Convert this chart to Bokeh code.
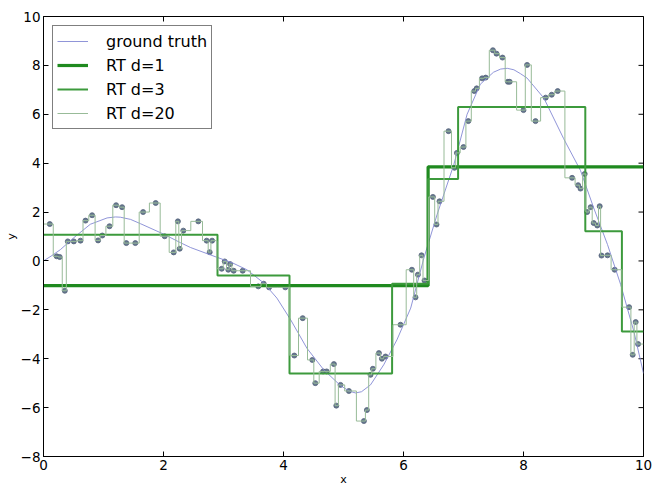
from bokeh.plotting import figure
from bokeh.models import Range1d, FixedTicker, Legend, LegendItem
from bokeh.embed import file_html
from bokeh.resources import INLINE

# ---- data ----
sample_x = [0.105, 0.22, 0.27, 0.355, 0.405, 0.505, 0.617, 0.70, 0.81, 0.91,
            0.98, 1.10, 1.21, 1.31, 1.38, 1.53, 1.66, 1.87, 2.02, 2.17,
            2.24, 2.27, 2.33, 2.58, 2.72, 2.77, 2.81, 2.97, 3.02, 3.08,
            3.11, 3.17, 3.32, 3.58, 3.67, 3.76, 4.03, 4.18, 4.32, 4.48,
            4.53, 4.66, 4.72, 4.84, 4.88, 4.95, 5.09, 5.34, 5.39, 5.45,
            5.49, 5.59, 5.64, 5.70, 5.95, 6.14, 6.20, 6.24, 6.30, 6.35,
            6.49, 6.55, 6.60, 6.75, 6.85, 6.89, 7.00, 7.08, 7.18, 7.22,
            7.31, 7.37, 7.49, 7.55, 7.65, 7.74, 7.77, 8.00, 8.06, 8.20,
            8.37, 8.47, 8.57, 8.81, 8.91, 8.95, 9.02, 9.06, 9.12, 9.17,
            9.23, 9.27, 9.30, 9.40, 9.52, 9.76, 9.82, 9.87, 9.91]
sample_y = [1.51, 0.19, 0.16, -1.22, 0.80, 0.80, 0.83, 1.65, 1.87, 0.84,
            1.04, 1.42, 2.28, 2.20, 0.73, 0.73, 2.00, 2.37, 1.01, 0.35,
            1.62, 0.50, 1.24, 1.62, 0.83, 0.36, 0.83, -0.32, -0.02, -0.36,
            -0.13, -0.40, -0.40, -1.04, -0.93, -1.08, -1.08, -3.87, -2.34, -4.05,
            -5.00, -4.52, -4.52, -4.22, -5.92, -5.07, -5.32, -6.55, -6.10, -4.66,
            -4.41, -3.77, -4.00, -3.91, -2.61, -0.36, -1.49, -0.56, 0.23, -0.80,
            2.62, 1.49, 2.44, 5.31, 3.81, 4.42, 4.66, 5.72, 6.95, 7.06,
            7.47, 7.50, 8.62, 8.48, 8.32, 7.33, 7.33, 6.17, 8.02, 5.72,
            6.68, 6.80, 6.95, 3.40, 3.10, 2.96, 3.56, 2.00, 2.20, 1.55,
            1.45, 2.24, 0.22, 0.23, -0.36, -1.89, -3.84, -2.50, -3.40]

truth_x = [0.0, 0.14, 0.28, 0.50, 0.78, 1.06, 1.20, 1.28, 1.45, 1.62,
           2.00, 2.28, 2.45, 2.89, 3.15, 3.39, 3.67, 3.89, 4.12, 4.39,
           4.67, 4.95, 5.10, 5.20, 5.30, 5.45, 5.67, 5.89, 6.12, 6.34,
           6.56, 6.84, 7.06, 7.28, 7.50, 7.62, 7.73, 7.84, 7.95, 8.06,
           8.34, 8.67, 8.95, 9.17, 9.40, 9.62, 9.84, 10.0]
truth_y = [0.0, 0.22, 0.46, 0.94, 1.50, 1.76, 1.80, 1.79, 1.70, 1.52,
           1.10, 0.75, 0.55, 0.15, -0.08, -0.36, -0.90, -1.52, -2.41, -3.57,
           -4.45, -5.10, -5.33, -5.40, -5.35, -5.07, -4.25, -3.23, -1.93, 0.12,
           1.90, 3.95, 6.00, 7.23, 7.72, 7.85, 7.88, 7.82, 7.66, 7.48,
           6.66, 5.00, 3.70, 2.17, 0.67, -0.97, -2.89, -4.60]

d1_edges = [0.0, 6.41, 10.0]
d1_values = [-1.01, 3.85]
d3_edges = [0.0, 2.90, 4.10, 5.81, 6.41, 6.91, 9.03, 9.64, 10.0]
d3_values = [1.07, -0.60, -4.60, -0.93, 3.35, 6.30, 1.21, -2.89]

x_ticks = [0, 2, 4, 6, 8, 10]
x_tick_labels = ["0", "2", "4", "6", "8", "10"]
y_ticks = [-8, -6, -4, -2, 0, 2, 4, 6, 8, 10]
y_tick_labels = ["\u22128", "\u22126", "\u22124", "\u22122", "0", "2", "4", "6", "8", "10"]
series_labels = ["ground truth", "RT d=1", "RT d=3", "RT d=20"]


def step_path(edges, vals):
    xs, ys = [], []
    for i, v in enumerate(vals):
        xs += [edges[i], edges[i + 1]]
        ys += [v, v]
    return xs, ys


d20_edges = [0.0] + [(a + b) / 2 for a, b in zip(sample_x[:-1], sample_x[1:])] + [10.0]

p = figure(width=652, height=488, x_range=Range1d(0, 10), y_range=Range1d(-8, 10),
           output_backend="svg", toolbar_location=None,
           min_border_left=43, min_border_right=9, min_border_top=16, min_border_bottom=0)
p.background_fill_color = "white"
p.border_fill_color = "white"
p.outline_line_color = "black"
p.outline_line_width = 1
p.grid.visible = False

font = "DejaVu Sans"
for ax, ticks, labels in [(p.xaxis[0], x_ticks, x_tick_labels), (p.yaxis[0], y_ticks, y_tick_labels)]:
    ax.ticker = FixedTicker(ticks=ticks)
    ax.major_label_overrides = {t: l for t, l in zip(ticks, labels)}
    ax.minor_tick_line_color = None
    ax.major_tick_in = 5
    ax.major_tick_out = 0
    ax.axis_line_color = "black"
    ax.major_tick_line_color = "black"
    ax.major_label_text_font = font
    ax.major_label_text_font_size = "13.5px"
    ax.major_label_text_color = "black"
    ax.axis_label_text_font = font
    ax.axis_label_text_font_size = "11px"
    ax.axis_label_text_font_style = "normal"
    ax.axis_label_text_color = "black"
    ax.axis_label_standoff = 0

p.xaxis.axis_label = "x"
p.yaxis.axis_label = "y"
p.xaxis.major_label_standoff = 3
p.yaxis.major_label_standoff = 3

# inward ticks on the top and right edges (clipped half-dashes at the frame edge)
p.scatter(x_ticks, [10] * len(x_ticks), marker="dash", size=10, angle=1.5708,
          line_color="black", line_width=1)
p.scatter([10] * len(y_ticks), y_ticks, marker="dash", size=10,
          line_color="black", line_width=1)

# points
p.scatter(sample_x, sample_y, size=5, fill_color="#66788f", line_color="#536178",
          line_width=0.8)

r_gt = p.line(truth_x, truth_y, line_color="#8489d4", line_width=1, line_alpha=0.9)
x1, y1 = step_path(d1_edges, d1_values)
r_d1 = p.line(x1, y1, line_color="#1f8a1f", line_width=3.2)
x3, y3 = step_path(d3_edges, d3_values)
r_d3 = p.line(x3, y3, line_color="#3c9a3c", line_width=2)
x20, y20 = step_path(d20_edges, sample_y)
r_d20 = p.line(x20, y20, line_color="#98bb98", line_width=1)

legend = Legend(items=[LegendItem(label=l, renderers=[r]) for l, r in
                       zip(series_labels, [r_gt, r_d1, r_d3, r_d20])],
                location="top_left", margin=9, padding=4, spacing=2,
                label_height=22, glyph_height=22, glyph_width=31, label_standoff=18,
                label_text_font=font, label_text_font_size="16px",
                label_text_color="black", border_line_color="black",
                border_line_width=1, background_fill_alpha=1)
p.add_layout(legend)

open("out.html", "w").write(file_html(p, INLINE))
